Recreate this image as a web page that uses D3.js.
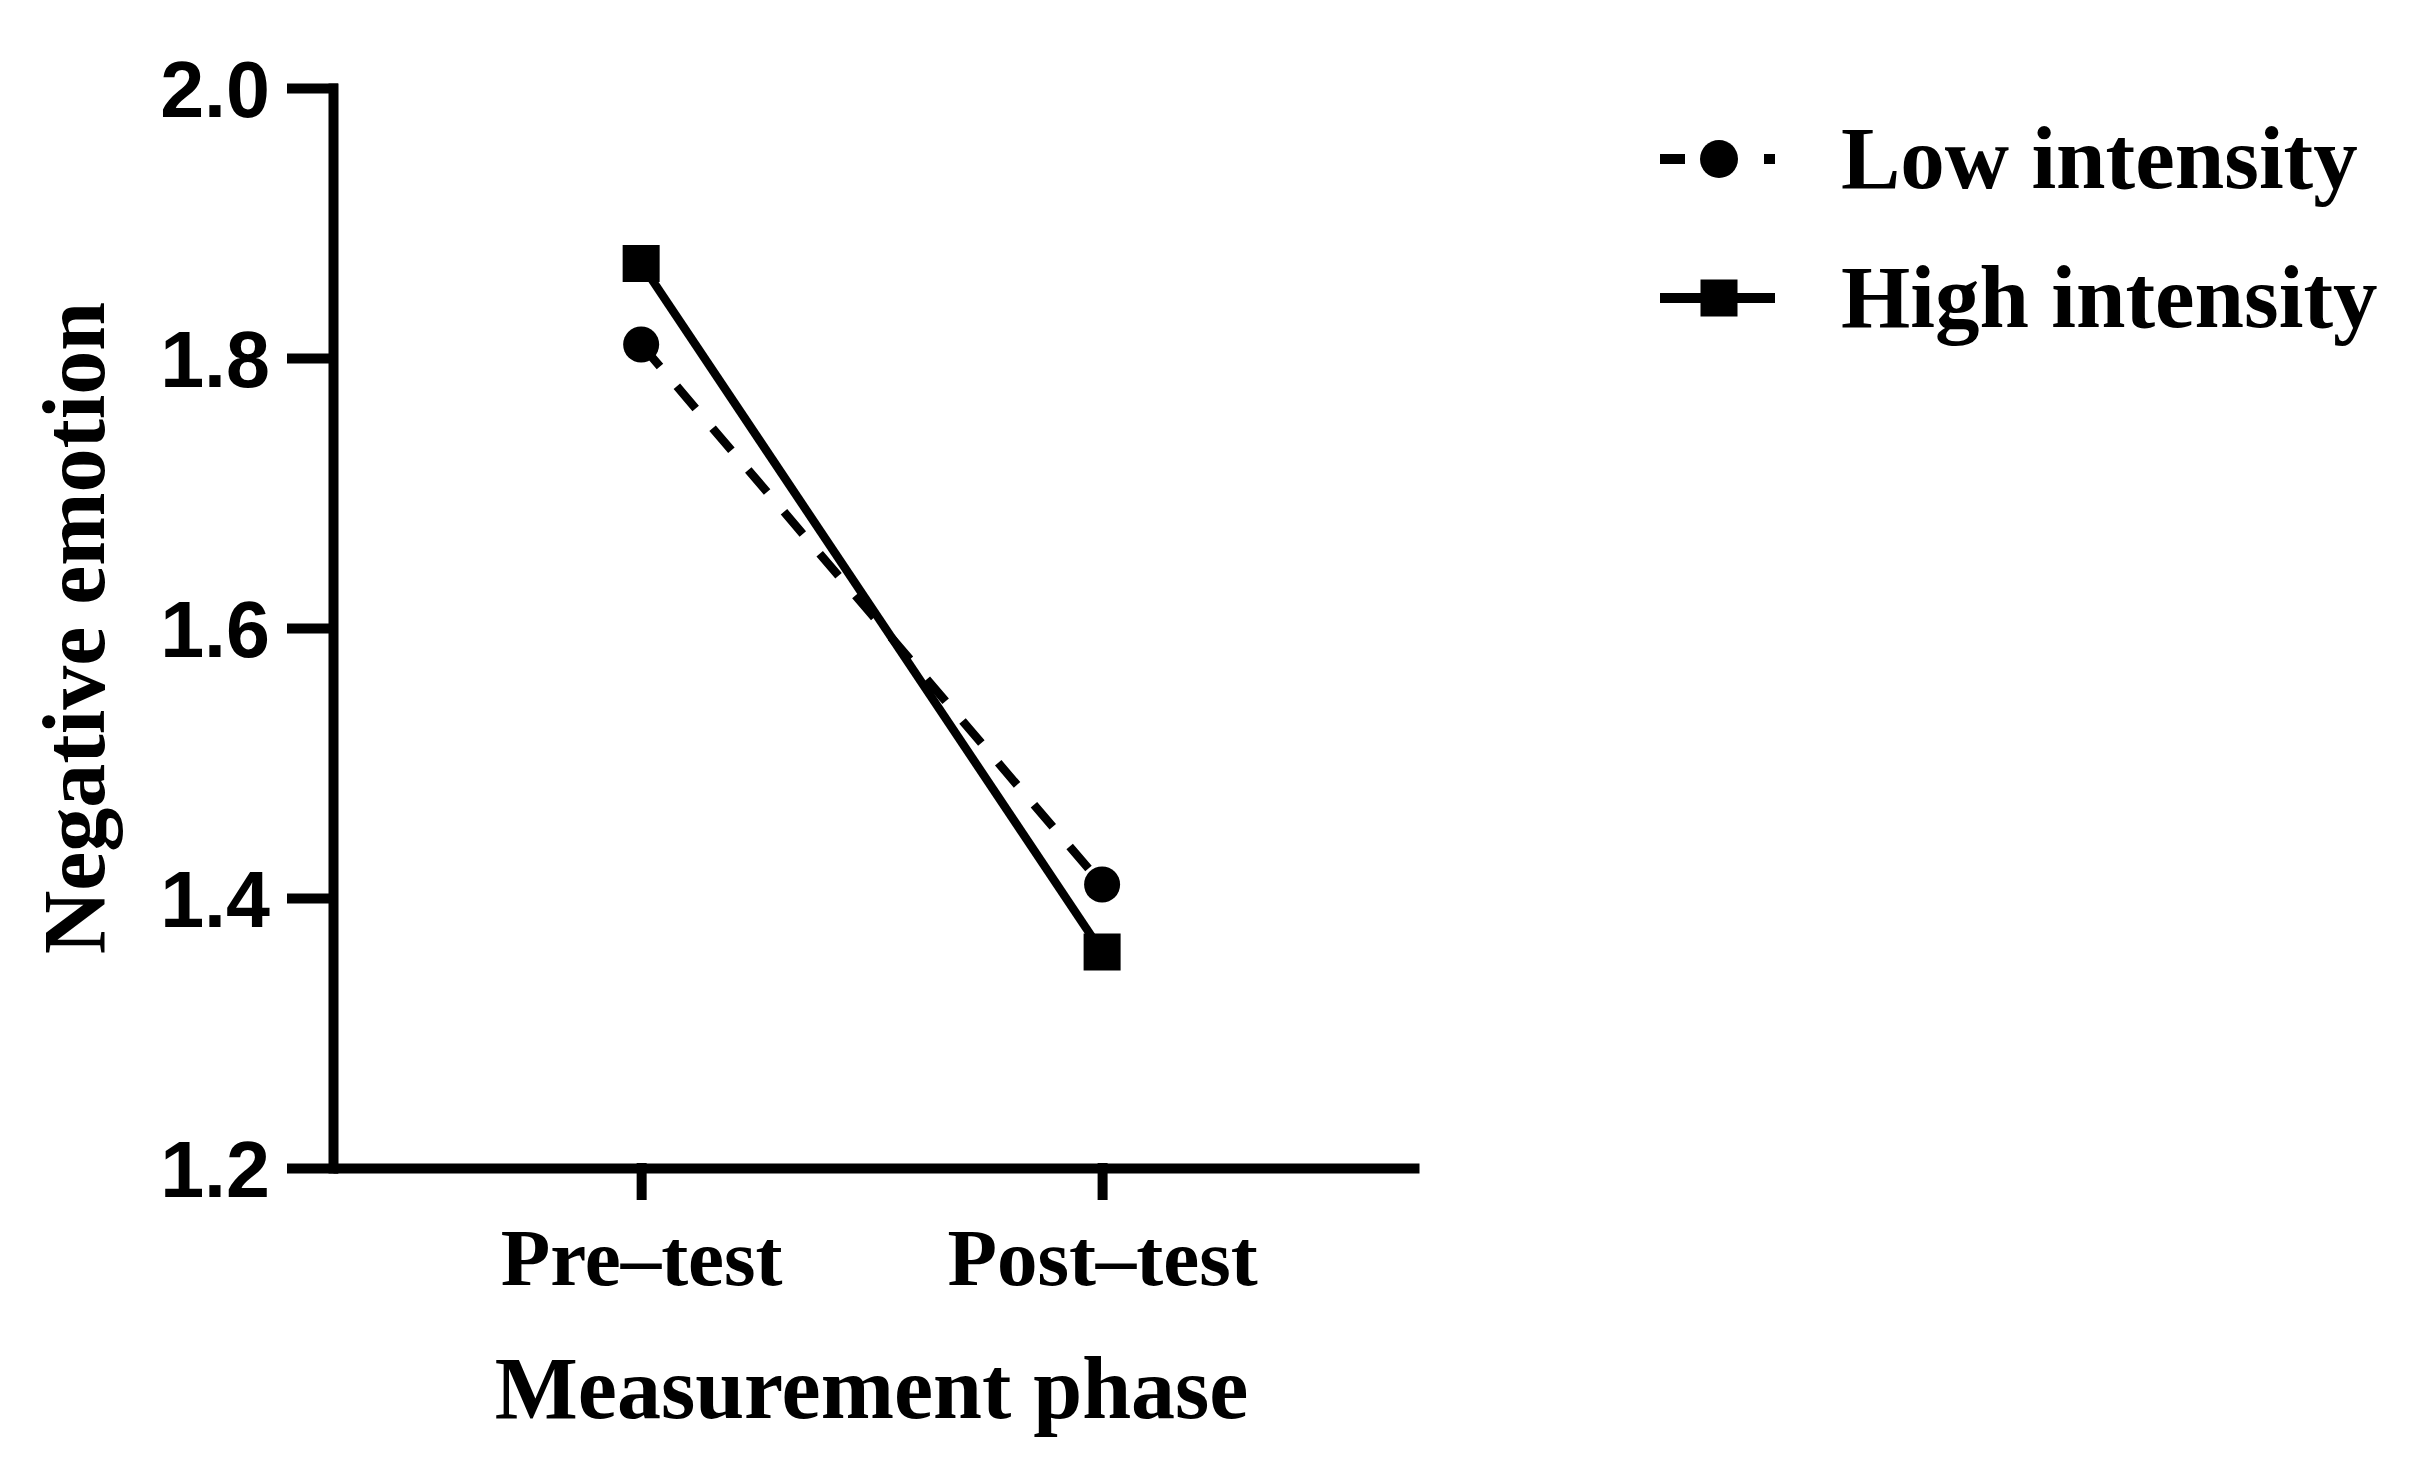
<!DOCTYPE html>
<html>
<head>
<meta charset="utf-8">
<script src="https://cdn.jsdelivr.net/npm/d3@7"></script>
<style>
  html, body { margin: 0; padding: 0; background: #fff; }
  svg { display: block; }
  .serif { font-family: "Liberation Serif", "Times New Roman", serif; font-weight: bold; }
  .sans { font-family: "Liberation Sans", Arial, sans-serif; font-weight: bold; }
</style>
</head>
<body>
<svg id="chart" width="2412" height="1477"></svg>
<script>
// ---- data ----
const phases = ["Pre\u2013test", "Post\u2013test"];
const lowIntensity = [1.81, 1.41];
const highIntensity = [1.87, 1.36];
const seriesNames = ["Low intensity", "High intensity"];
const yTicks = [1.2, 1.4, 1.6, 1.8, 2.0];
const yLabel = "Negative emotion";
const xLabel = "Measurement phase";

// ---- layout ----
const svg = d3.select("#chart");
const W = 2412, H = 1477;
svg.append("rect").attr("width", W).attr("height", H).attr("fill", "#fff");

const y = d3.scaleLinear().domain([1.2, 2.0]).range([1168, 88]);
const x = d3.scalePoint().domain(phases).range([333, 1419]).padding(0.678).align(0.493);

const axisW = 10;

// Y axis
const gy = svg.append("g").attr("transform", "translate(333,0)")
  .call(d3.axisLeft(y).tickValues(yTicks).tickFormat(d3.format(".1f"))
    .tickSize(41).tickSizeOuter(0).tickPadding(22));
gy.selectAll("path.domain").attr("stroke", "#000").attr("stroke-width", axisW).attr("stroke-linecap", "square");
gy.selectAll(".tick line").attr("stroke", "#000").attr("stroke-width", axisW).attr("stroke-linecap", "square");
gy.selectAll(".tick text").attr("class", "sans").attr("font-size", 79).attr("fill", "#000").attr("dy", "0.36em");

// X axis
const gx = svg.append("g").attr("transform", "translate(0,1168)")
  .call(d3.axisBottom(x).tickSize(27).tickSizeOuter(0));
gx.selectAll("path.domain").attr("stroke", "#000").attr("stroke-width", axisW).attr("stroke-linecap", "butt");
gx.selectAll(".tick line").attr("stroke", "#000").attr("stroke-width", axisW).attr("stroke-linecap", "square");
gx.selectAll(".tick text").attr("class", "serif").attr("font-size", 81).attr("fill", "#000")
  .attr("y", 117).attr("dy", 0);

// Axis titles
svg.append("text").attr("class", "serif").attr("font-size", 88).attr("fill", "#000")
  .attr("text-anchor", "middle")
  .attr("transform", `translate(104,${(y(2.0) + y(1.2)) / 2}) rotate(-90)`)
  .text(yLabel);
svg.append("text").attr("class", "serif").attr("font-size", 88).attr("fill", "#000")
  .attr("text-anchor", "middle")
  .attr("x", (x(phases[0]) + x(phases[1])) / 2).attr("y", 1418)
  .text(xLabel);

// Lines
const line = d3.line().x((d, i) => x(phases[i])).y(d => y(d));
const lineW = 8.5;
const dashPlot = "29,26";
svg.append("path").datum(lowIntensity).attr("d", line)
  .attr("fill", "none").attr("stroke", "#000").attr("stroke-width", lineW)
  .attr("stroke-dasharray", dashPlot);
svg.append("path").datum(highIntensity).attr("d", line)
  .attr("fill", "none").attr("stroke", "#000").attr("stroke-width", lineW);

// Markers
const sq = 37, cr = 18;
svg.append("g").selectAll("circle").data(lowIntensity).join("circle")
  .attr("cx", (d, i) => x(phases[i])).attr("cy", d => y(d)).attr("r", cr).attr("fill", "#000");
svg.append("g").selectAll("rect").data(highIntensity).join("rect")
  .attr("x", (d, i) => x(phases[i]) - sq / 2).attr("y", d => y(d) - sq / 2)
  .attr("width", sq).attr("height", sq).attr("fill", "#000");

// Legend
const lg = svg.append("g");
const legRows = [159, 298];
const lx0 = 1660, lx1 = 1775, lmx = 1719, ltx = 1841;
// Low
lg.append("line").attr("x1", lx0).attr("x2", lx1).attr("y1", legRows[0]).attr("y2", legRows[0])
  .attr("stroke", "#000").attr("stroke-width", 10).attr("stroke-dasharray", "25,27");
lg.append("circle").attr("cx", lmx).attr("cy", legRows[0]).attr("r", 19).attr("fill", "#000");
// High
lg.append("line").attr("x1", lx0).attr("x2", lx1).attr("y1", legRows[1]).attr("y2", legRows[1])
  .attr("stroke", "#000").attr("stroke-width", 10);
lg.append("rect").attr("x", lmx - sq / 2).attr("y", legRows[1] - sq / 2).attr("width", sq).attr("height", sq).attr("fill", "#000");
lg.selectAll("text.leg").data(seriesNames).join("text")
  .attr("class", "serif leg").attr("font-size", 89).attr("fill", "#000")
  .attr("x", ltx).attr("y", (d, i) => legRows[i] + 29)
  .text(d => d);
</script>
</body>
</html>
